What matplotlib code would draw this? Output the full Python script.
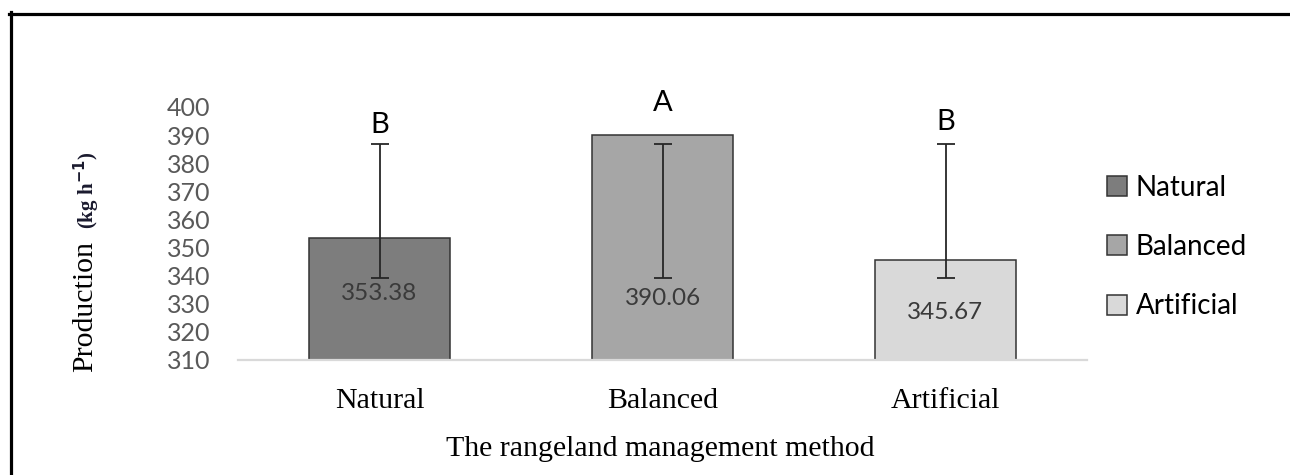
import matplotlib
matplotlib.use("Agg")
import matplotlib.pyplot as plt
from matplotlib.lines import Line2D
from matplotlib.patches import Patch

# data
methods = ["Natural", "Balanced", "Artificial"]
production = [353.38, 390.06, 345.67]
err_low = [339.1, 339.1, 339.1]
err_high = [386.9, 386.9, 386.9]
letters = ["B", "A", "B"]
yticks = [310, 320, 330, 340, 350, 360, 370, 380, 390, 400]

# styling
colors = ["#7d7d7d", "#a6a6a6", "#d9d9d9"]
label_y = [333.5, 331.8, 327.0]
letter_y = [393.7, 401.6, 394.8]
serif = "Liberation Serif"
sans = "Lato"

fig = plt.figure(figsize=(12.9, 4.75), dpi=100)
ax = fig.add_axes([238 / 1290, 1 - 360 / 475, 849 / 1290, 253 / 475])

x = list(range(len(methods)))
ax.bar(x, [p - 310 for p in production], bottom=310, width=0.5,
       color=colors, edgecolor="#333333", linewidth=1.1, zorder=2)

# the bars in the source do not sit on their means, so draw them by their ends
mid = [(lo + hi) / 2 for lo, hi in zip(err_low, err_high)]
half = [(hi - lo) / 2 for lo, hi in zip(err_low, err_high)]
ax.errorbar(x, mid, yerr=half, fmt="none", ecolor="#262626",
            elinewidth=1.3, capsize=6.5, capthick=1.3, zorder=3)

for xi, v, ly in zip(x, production, label_y):
    ax.text(xi, ly, f"{v:.2f}", ha="center", va="center",
            fontsize=17.5, color="#3a3a3a", family=sans, zorder=4)

for xi, lt, ly in zip(x, letters, letter_y):
    ax.text(xi, ly, lt, ha="center", va="center", fontsize=21,
            color="black", family=sans, clip_on=False)

ax.set_xlim(-0.5, 2.5)
ax.set_ylim(310, 400)
ax.set_yticks(yticks)
ax.set_yticklabels([str(t) for t in yticks], family=sans, fontsize=18,
                   color="#595959")
ax.set_xticks(x)
ax.set_xticklabels(methods, family=serif, fontsize=21.5, color="black")
ax.tick_params(axis="y", length=0, pad=20)
ax.tick_params(axis="x", length=0, pad=20)

for s in ["top", "right", "left"]:
    ax.spines[s].set_visible(False)
ax.spines["bottom"].set_color("#d9d9d9")
ax.spines["bottom"].set_linewidth(1.6)

fig.text(660 / 1290, 1 - 449 / 475, "The rangeland management method",
         ha="center", va="center", family=serif, fontsize=21.5)
fig.text(85 / 1290, 1 - 306 / 475, "Production", rotation=90,
         ha="center", va="center", family=serif, fontsize=21.5)
fig.text(87 / 1290, 1 - 190 / 475, r"(kg h$^{\mathbf{-1}}$)", rotation=90,
         ha="center", va="center", family=serif, fontsize=15,
         fontweight="bold", color="#1a1a2e")

handles = [Patch(facecolor=c, edgecolor="#333333", linewidth=1.1)
           for c in colors]
fig.legend(handles, methods, loc="center left",
           bbox_to_anchor=(1107 / 1290, 1 - 247 / 475), frameon=False,
           prop={"family": sans, "size": 20}, handlelength=0.72,
           handleheight=0.72, handletextpad=0.32, labelspacing=1.2,
           borderpad=0, borderaxespad=0)

# page border (top and left only)
fig.add_artist(Line2D([9 / 1290, 1], [1 - 13.5 / 475, 1 - 13.5 / 475],
                      transform=fig.transFigure, color="black", linewidth=2.3))
fig.add_artist(Line2D([10.5 / 1290, 10.5 / 1290], [0, 1 - 12 / 475],
                      transform=fig.transFigure, color="black", linewidth=2.3))

fig.savefig("out.png", dpi=100)
